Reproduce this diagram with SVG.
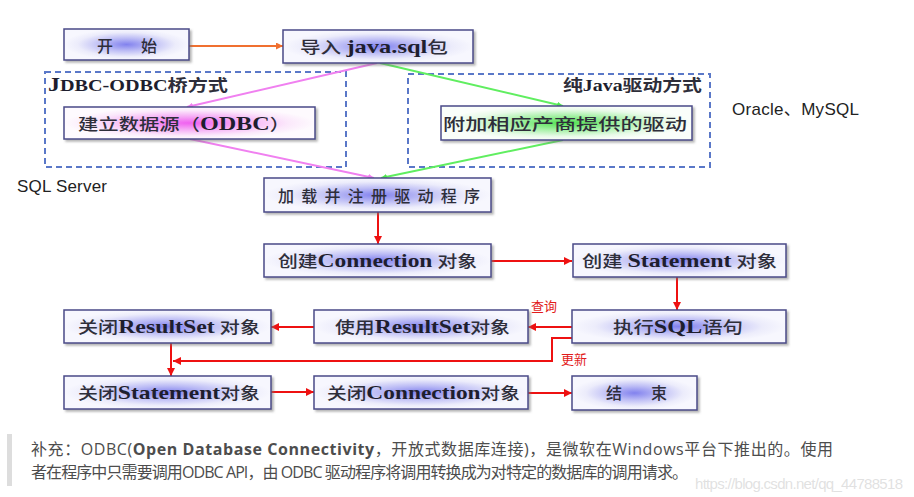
<svg xmlns="http://www.w3.org/2000/svg" width="914" height="497" viewBox="0 0 914 497">
<style>
.box{stroke:#4a4a88;stroke-width:1.5;filter:url(#sh)}
.lbl{font-family:"Liberation Serif","Noto Sans CJK SC",serif;font-size:16px;font-weight:500;fill:#2e2e3a}
.lat{font-weight:bold;font-size:19px;fill:#1e1e2e}
.dash{fill:none;stroke:#5a78c8;stroke-width:2;stroke-dasharray:6 4}
.red{fill:none;stroke:#ee1111;stroke-width:2}
.note{font-family:"Liberation Sans","Noto Sans CJK SC",sans-serif;font-size:17px;fill:#222}
.rl{font-family:"Noto Sans CJK SC",sans-serif;font-size:13px;fill:#e21b1b}
.ft{font-family:"Open Sans","Noto Sans CJK SC",sans-serif;font-size:16px;fill:#4d4d4d}
</style>
<defs>
<filter id="sh" x="-10%" y="-30%" width="120%" height="160%">
<feDropShadow dx="2" dy="2" stdDeviation="1.2" flood-color="#777" flood-opacity="0.55"/>
</filter>
<radialGradient id="gB" cx="0.5" cy="0.5" r="0.5">
<stop offset="0" stop-color="#8282ee"/>
<stop offset="0.4" stop-color="#bcbcf5"/>
<stop offset="0.78" stop-color="#ececfb"/>
<stop offset="1" stop-color="#f7f7fe"/>
</radialGradient>
<radialGradient id="gM" cx="0.5" cy="0.5" r="0.5">
<stop offset="0" stop-color="#f060f0"/>
<stop offset="0.4" stop-color="#f5aaf5"/>
<stop offset="0.78" stop-color="#fbe8fb"/>
<stop offset="1" stop-color="#fefafe"/>
</radialGradient>
<radialGradient id="gG" cx="0.5" cy="0.5" r="0.5">
<stop offset="0" stop-color="#4ee04e"/>
<stop offset="0.4" stop-color="#a2f0a2"/>
<stop offset="0.78" stop-color="#e8fae8"/>
<stop offset="1" stop-color="#fafefa"/>
</radialGradient>
<marker id="ar" viewBox="0 0 8 8" refX="8" refY="4" markerWidth="8" markerHeight="8" markerUnits="userSpaceOnUse" orient="auto">
<path d="M0,0 L8,4 L0,8 z" fill="#ee1111"/>
</marker>
<marker id="ao" viewBox="0 0 8 8" refX="8" refY="4" markerWidth="7" markerHeight="7" markerUnits="userSpaceOnUse" orient="auto">
<path d="M0,0 L8,4 L0,8 z" fill="#f07030"/>
</marker>
<marker id="ap" viewBox="0 0 8 8" refX="8" refY="4" markerWidth="6" markerHeight="6" markerUnits="userSpaceOnUse" orient="auto">
<path d="M0,0 L8,4 L0,8 z" fill="#f080f0"/>
</marker>
<marker id="ag" viewBox="0 0 8 8" refX="8" refY="4" markerWidth="6" markerHeight="6" markerUnits="userSpaceOnUse" orient="auto">
<path d="M0,0 L8,4 L0,8 z" fill="#50e850"/>
</marker>
</defs>
<rect width="914" height="497" fill="#ffffff"/>

<g id="group-jdbc-odbc">
<rect class="dash" x="45" y="72" width="301" height="95"/>
<text class="lbl" x="48" y="91" textLength="180" lengthAdjust="spacingAndGlyphs"><tspan class="lat" style="font-size:19px">J</tspan><tspan class="lat" style="font-size:16px">DBC-ODBC</tspan><tspan font-weight="bold">桥方式</tspan></text>
</g>
<g id="group-purejava">
<rect class="dash" x="408" y="74" width="302" height="93"/>
<text class="lbl" x="563" y="91" textLength="139" lengthAdjust="spacingAndGlyphs"><tspan font-weight="bold">纯</tspan><tspan class="lat" style="font-size:16px">Java</tspan><tspan font-weight="bold">驱动方式</tspan></text>
</g>

<g id="connectors">
<line x1="189" y1="46" x2="283" y2="46" stroke="#f07030" stroke-width="2" marker-end="url(#ao)"/>
<line x1="377" y1="63" x2="187" y2="107" stroke="#f080f0" stroke-width="2" marker-end="url(#ap)"/>
<line x1="190" y1="139" x2="374" y2="178" stroke="#f080f0" stroke-width="2" marker-end="url(#ap)"/>
<line x1="380" y1="63" x2="563" y2="106" stroke="#60ee60" stroke-width="2" marker-end="url(#ag)"/>
<line x1="563" y1="140" x2="381" y2="178" stroke="#60ee60" stroke-width="2" marker-end="url(#ag)"/>
<line class="red" x1="378" y1="212" x2="378" y2="244" marker-end="url(#ar)"/>
<line class="red" x1="490" y1="261" x2="572" y2="261" marker-end="url(#ar)"/>
<line class="red" x1="677" y1="277" x2="677" y2="310" marker-end="url(#ar)"/>
<line class="red" x1="572" y1="327" x2="528" y2="327" marker-end="url(#ar)"/>
<line class="red" x1="314" y1="327" x2="271" y2="327" marker-end="url(#ar)"/>
<line class="red" x1="171" y1="343" x2="171" y2="376" marker-end="url(#ar)"/>
<polyline class="red" points="572,338 552,338 552,361 173,361" marker-end="url(#ar)"/>
<line class="red" x1="271" y1="392" x2="314" y2="392" marker-end="url(#ar)"/>
<line class="red" x1="528" y1="393" x2="572" y2="393" marker-end="url(#ar)"/>
<text class="rl" x="531" y="311">查询</text>
<text class="rl" x="561" y="364">更新</text>
</g>

<g id="n-start">
<rect class="box" x="64" y="29" width="125" height="31" fill="url(#gB)"/>
<text class="lbl" x="97" y="52" textLength="60">开始</text>
</g>
<g id="n-import">
<rect class="box" x="283" y="30" width="190" height="33" fill="url(#gB)"/>
<text class="lbl" x="300" y="53" textLength="148" lengthAdjust="spacingAndGlyphs">导入 <tspan class="lat">java.sql</tspan>包</text>
</g>
<g id="n-odbc">
<rect class="box" x="64" y="107" width="251" height="32" fill="url(#gM)"/>
<text class="lbl" x="78" y="130" textLength="212" lengthAdjust="spacingAndGlyphs">建立数据源（<tspan class="lat">ODBC</tspan>）</text>
</g>
<g id="n-vendor">
<rect class="box" x="441" y="106" width="251" height="34" fill="url(#gG)"/>
<text class="lbl" x="443" y="130" textLength="244" lengthAdjust="spacingAndGlyphs">附加相应产商提供的驱动</text>
</g>
<g id="n-load">
<rect class="box" x="264" y="178" width="227" height="34" fill="url(#gB)"/>
<text class="lbl" x="278" y="202" textLength="202">加载并注册驱动程序</text>
</g>
<g id="n-conn">
<rect class="box" x="264" y="244" width="227" height="33" fill="url(#gB)"/>
<text class="lbl" x="278" y="267" textLength="199" lengthAdjust="spacingAndGlyphs">创建<tspan class="lat">Connection</tspan> 对象</text>
</g>
<g id="n-stmt">
<rect class="box" x="573" y="244" width="213" height="33" fill="url(#gB)"/>
<text class="lbl" x="582" y="267" textLength="195" lengthAdjust="spacingAndGlyphs">创建 <tspan class="lat">Statement</tspan> 对象</text>
</g>
<g id="n-exec">
<rect class="box" x="572" y="310" width="214" height="33" fill="url(#gB)"/>
<text class="lbl" x="613" y="333" textLength="130" lengthAdjust="spacingAndGlyphs">执行<tspan class="lat">SQL</tspan>语句</text>
</g>
<g id="n-use-rs">
<rect class="box" x="314" y="310" width="214" height="33" fill="url(#gB)"/>
<text class="lbl" x="335" y="333" textLength="175" lengthAdjust="spacingAndGlyphs">使用<tspan class="lat">ResultSet</tspan>对象</text>
</g>
<g id="n-close-rs">
<rect class="box" x="64" y="310" width="207" height="33" fill="url(#gB)"/>
<text class="lbl" x="78" y="333" textLength="182" lengthAdjust="spacingAndGlyphs">关闭<tspan class="lat">ResultSet</tspan> 对象</text>
</g>
<g id="n-close-stmt">
<rect class="box" x="64" y="376" width="207" height="33" fill="url(#gB)"/>
<text class="lbl" x="78" y="399" textLength="182" lengthAdjust="spacingAndGlyphs">关闭<tspan class="lat">Statement</tspan>对象</text>
</g>
<g id="n-close-conn">
<rect class="box" x="314" y="376" width="214" height="33" fill="url(#gB)"/>
<text class="lbl" x="327" y="399" textLength="193" lengthAdjust="spacingAndGlyphs">关闭<tspan class="lat">Connection</tspan>对象</text>
</g>
<g id="n-end">
<rect class="box" x="572" y="376" width="125" height="34" fill="url(#gB)"/>
<text class="lbl" x="606" y="399" textLength="61">结束</text>
</g>

<text class="note" x="732" y="115" textLength="127">Oracle、MySQL</text>
<text class="note" x="17" y="192" textLength="90">SQL Server</text>

<rect x="7" y="434" width="5" height="52" fill="#dddddd"/>
<text class="ft" x="31" y="455" textLength="802">补充：ODBC(<tspan font-weight="bold">Open Database Connectivity</tspan>，开放式数据库连接)，是微软在Windows平台下推出的。使用</text>
<text class="ft" x="31" y="478" textLength="657">者在程序中只需要调用ODBC API，由 ODBC 驱动程序将调用转换成为对特定的数据库的调用请求。</text>
<text x="903" y="489" text-anchor="end" font-family="Liberation Sans, sans-serif" font-size="15" textLength="208" fill="#d4d4d4" fill-opacity="0.7">https://blog.csdn.net/qq_44788518</text>
</svg>
